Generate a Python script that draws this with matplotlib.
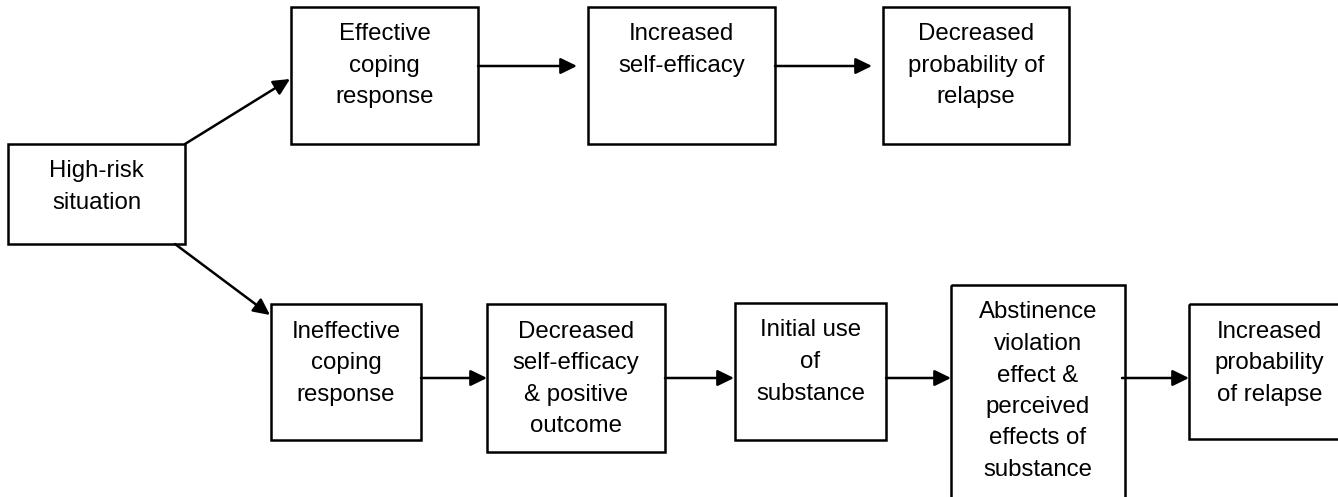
import matplotlib.pyplot as plt
from matplotlib.patches import Rectangle, FancyArrowPatch

# box texts, one list of lines per box
labels = {
    "risk": ["High-risk", "situation"],
    "eff": ["Effective", "coping", "response"],
    "inc_se": ["Increased", "self-efficacy"],
    "dec_p": ["Decreased", "probability of", "relapse"],
    "ineff": ["Ineffective", "coping", "response"],
    "dec_se": ["Decreased", "self-efficacy", "& positive", "outcome"],
    "use": ["Initial use", "of", "substance"],
    "ave": ["Abstinence", "violation", "effect &", "perceived", "effects of", "substance"],
    "inc_p": ["Increased", "probability", "of relapse"],
}

# layout in pixels (x0, y0, x1, y1), y measured from the top
boxes = {
    "risk": (8, 144, 185, 244),
    "eff": (291, 7, 478, 144),
    "inc_se": (588, 7, 775, 144),
    "dec_p": (883, 7, 1069, 144),
    "ineff": (271, 304, 421, 440),
    "dec_se": (487, 304, 665, 452),
    "use": (735, 303, 886, 440),
    "ave": (951, 285, 1125, 520),
    "inc_p": (1189, 304, 1350, 439),
}

# arrows: (from, to, start point, end point)
arrows = [
    ("risk", "eff", (185, 144), (290, 79)),
    ("risk", "ineff", (175, 244), (270, 315)),
    ("eff", "inc_se", (478, 66), (577, 66)),
    ("inc_se", "dec_p", (775, 66), (872, 66)),
    ("ineff", "dec_se", (421, 378), (487, 378)),
    ("dec_se", "use", (665, 378), (734, 378)),
    ("use", "ave", (886, 378), (951, 378)),
    ("ave", "inc_p", (1122, 378), (1189, 378)),
]

W, H = 1338, 497
fig = plt.figure(figsize=(W / 100, H / 100), dpi=100)
ax = fig.add_axes([0, 0, 1, 1])
ax.set_xlim(0, W)
ax.set_ylim(H, 0)
ax.axis("off")

for key, (x0, y0, x1, y1) in boxes.items():
    ax.add_patch(Rectangle((x0, y0), x1 - x0, y1 - y0, fill=False,
                           edgecolor="black", linewidth=1.8))
    cx = (x0 + x1) / 2
    for i, line in enumerate(labels[key]):
        ax.text(cx, y0 + 33.5 + i * 31.5, line, ha="center", va="baseline",
                fontsize=17.3, family="Liberation Sans", color="black")

for src, dst, p0, p1 in arrows:
    ax.add_patch(FancyArrowPatch(p0, p1, arrowstyle="-|>,head_length=0.45,head_width=0.22",
                                 mutation_scale=22, color="black", linewidth=1.8,
                                 shrinkA=0, shrinkB=0))

fig.savefig("out.png", dpi=100)
